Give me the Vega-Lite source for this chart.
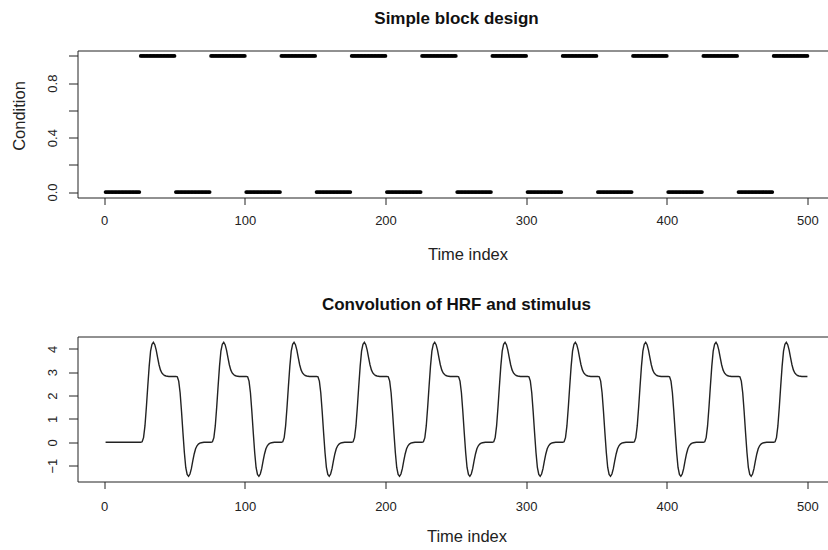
{
"$schema": "https://vega.github.io/schema/vega-lite/v6.json",
"background": "white",
"padding": {"left": 9.5, "top": 8.5, "right": -7, "bottom": 0},
"spacing": 31,
"config": {
  "font": "Liberation Sans",
  "view": {"stroke": "#222", "strokeWidth": 1},
  "axis": {"grid": false, "ticks": true, "domain": false, "domainColor": "#222", "tickColor": "#222", "labelColor": "#222", "titleColor": "#222", "labelFontSize": 13, "titleFontSize": 16.5, "titleFontWeight": "normal", "labelFont": "Liberation Sans", "titleFont": "Liberation Sans", "tickWidth": 1},
  "title": {"fontSize": 17, "fontWeight": "bold", "font": "Liberation Sans", "color": "#111", "anchor": "middle", "frame": "group", "baseline": "alphabetic"}
},
"datasets": {"d": [
{"t":1,"c":0,"y":0},{"t":2,"c":0,"y":0},{"t":3,"c":0,"y":0},{"t":4,"c":0,"y":0},{"t":5,"c":0,"y":0},{"t":6,"c":0,"y":0},{"t":7,"c":0,"y":0},{"t":8,"c":0,"y":0},{"t":9,"c":0,"y":0},{"t":10,"c":0,"y":0},{"t":11,"c":0,"y":0},{"t":12,"c":0,"y":0},{"t":13,"c":0,"y":0},{"t":14,"c":0,"y":0},{"t":15,"c":0,"y":0},{"t":16,"c":0,"y":0},{"t":17,"c":0,"y":0},{"t":18,"c":0,"y":0},{"t":19,"c":0,"y":0},{"t":20,"c":0,"y":0},{"t":21,"c":0,"y":0},{"t":22,"c":0,"y":0},{"t":23,"c":0,"y":0},{"t":24,"c":0,"y":0},{"t":25,"c":0,"y":0},
{"t":26,"c":1,"y":0},{"t":27,"c":1,"y":0.02},{"t":28,"c":1,"y":0.2},{"t":29,"c":1,"y":0.7},{"t":30,"c":1,"y":1.5},{"t":31,"c":1,"y":2.4},{"t":32,"c":1,"y":3.25},{"t":33,"c":1,"y":3.9},{"t":34,"c":1,"y":4.2},{"t":35,"c":1,"y":4.28},{"t":36,"c":1,"y":4.18},{"t":37,"c":1,"y":3.95},{"t":38,"c":1,"y":3.62},{"t":39,"c":1,"y":3.32},{"t":40,"c":1,"y":3.1},{"t":41,"c":1,"y":2.97},{"t":42,"c":1,"y":2.9},{"t":43,"c":1,"y":2.86},{"t":44,"c":1,"y":2.84},{"t":45,"c":1,"y":2.83},{"t":46,"c":1,"y":2.82},{"t":47,"c":1,"y":2.82},{"t":48,"c":1,"y":2.82},{"t":49,"c":1,"y":2.82},{"t":50,"c":1,"y":2.82},
{"t":51,"c":0,"y":2.82},{"t":52,"c":0,"y":2.8},{"t":53,"c":0,"y":2.62},{"t":54,"c":0,"y":2.12},{"t":55,"c":0,"y":1.32},{"t":56,"c":0,"y":0.42},{"t":57,"c":0,"y":-0.43},{"t":58,"c":0,"y":-1.08},{"t":59,"c":0,"y":-1.38},{"t":60,"c":0,"y":-1.46},{"t":61,"c":0,"y":-1.36},{"t":62,"c":0,"y":-1.13},{"t":63,"c":0,"y":-0.8},{"t":64,"c":0,"y":-0.5},{"t":65,"c":0,"y":-0.28},{"t":66,"c":0,"y":-0.15},{"t":67,"c":0,"y":-0.08},{"t":68,"c":0,"y":-0.04},{"t":69,"c":0,"y":-0.02},{"t":70,"c":0,"y":-0.01},{"t":71,"c":0,"y":0},{"t":72,"c":0,"y":0},{"t":73,"c":0,"y":0},{"t":74,"c":0,"y":0},{"t":75,"c":0,"y":0},
{"t":76,"c":1,"y":0},{"t":77,"c":1,"y":0.02},{"t":78,"c":1,"y":0.2},{"t":79,"c":1,"y":0.7},{"t":80,"c":1,"y":1.5},{"t":81,"c":1,"y":2.4},{"t":82,"c":1,"y":3.25},{"t":83,"c":1,"y":3.9},{"t":84,"c":1,"y":4.2},{"t":85,"c":1,"y":4.28},{"t":86,"c":1,"y":4.18},{"t":87,"c":1,"y":3.95},{"t":88,"c":1,"y":3.62},{"t":89,"c":1,"y":3.32},{"t":90,"c":1,"y":3.1},{"t":91,"c":1,"y":2.97},{"t":92,"c":1,"y":2.9},{"t":93,"c":1,"y":2.86},{"t":94,"c":1,"y":2.84},{"t":95,"c":1,"y":2.83},{"t":96,"c":1,"y":2.82},{"t":97,"c":1,"y":2.82},{"t":98,"c":1,"y":2.82},{"t":99,"c":1,"y":2.82},{"t":100,"c":1,"y":2.82},
{"t":101,"c":0,"y":2.82},{"t":102,"c":0,"y":2.8},{"t":103,"c":0,"y":2.62},{"t":104,"c":0,"y":2.12},{"t":105,"c":0,"y":1.32},{"t":106,"c":0,"y":0.42},{"t":107,"c":0,"y":-0.43},{"t":108,"c":0,"y":-1.08},{"t":109,"c":0,"y":-1.38},{"t":110,"c":0,"y":-1.46},{"t":111,"c":0,"y":-1.36},{"t":112,"c":0,"y":-1.13},{"t":113,"c":0,"y":-0.8},{"t":114,"c":0,"y":-0.5},{"t":115,"c":0,"y":-0.28},{"t":116,"c":0,"y":-0.15},{"t":117,"c":0,"y":-0.08},{"t":118,"c":0,"y":-0.04},{"t":119,"c":0,"y":-0.02},{"t":120,"c":0,"y":-0.01},{"t":121,"c":0,"y":0},{"t":122,"c":0,"y":0},{"t":123,"c":0,"y":0},{"t":124,"c":0,"y":0},{"t":125,"c":0,"y":0},
{"t":126,"c":1,"y":0},{"t":127,"c":1,"y":0.02},{"t":128,"c":1,"y":0.2},{"t":129,"c":1,"y":0.7},{"t":130,"c":1,"y":1.5},{"t":131,"c":1,"y":2.4},{"t":132,"c":1,"y":3.25},{"t":133,"c":1,"y":3.9},{"t":134,"c":1,"y":4.2},{"t":135,"c":1,"y":4.28},{"t":136,"c":1,"y":4.18},{"t":137,"c":1,"y":3.95},{"t":138,"c":1,"y":3.62},{"t":139,"c":1,"y":3.32},{"t":140,"c":1,"y":3.1},{"t":141,"c":1,"y":2.97},{"t":142,"c":1,"y":2.9},{"t":143,"c":1,"y":2.86},{"t":144,"c":1,"y":2.84},{"t":145,"c":1,"y":2.83},{"t":146,"c":1,"y":2.82},{"t":147,"c":1,"y":2.82},{"t":148,"c":1,"y":2.82},{"t":149,"c":1,"y":2.82},{"t":150,"c":1,"y":2.82},
{"t":151,"c":0,"y":2.82},{"t":152,"c":0,"y":2.8},{"t":153,"c":0,"y":2.62},{"t":154,"c":0,"y":2.12},{"t":155,"c":0,"y":1.32},{"t":156,"c":0,"y":0.42},{"t":157,"c":0,"y":-0.43},{"t":158,"c":0,"y":-1.08},{"t":159,"c":0,"y":-1.38},{"t":160,"c":0,"y":-1.46},{"t":161,"c":0,"y":-1.36},{"t":162,"c":0,"y":-1.13},{"t":163,"c":0,"y":-0.8},{"t":164,"c":0,"y":-0.5},{"t":165,"c":0,"y":-0.28},{"t":166,"c":0,"y":-0.15},{"t":167,"c":0,"y":-0.08},{"t":168,"c":0,"y":-0.04},{"t":169,"c":0,"y":-0.02},{"t":170,"c":0,"y":-0.01},{"t":171,"c":0,"y":0},{"t":172,"c":0,"y":0},{"t":173,"c":0,"y":0},{"t":174,"c":0,"y":0},{"t":175,"c":0,"y":0},
{"t":176,"c":1,"y":0},{"t":177,"c":1,"y":0.02},{"t":178,"c":1,"y":0.2},{"t":179,"c":1,"y":0.7},{"t":180,"c":1,"y":1.5},{"t":181,"c":1,"y":2.4},{"t":182,"c":1,"y":3.25},{"t":183,"c":1,"y":3.9},{"t":184,"c":1,"y":4.2},{"t":185,"c":1,"y":4.28},{"t":186,"c":1,"y":4.18},{"t":187,"c":1,"y":3.95},{"t":188,"c":1,"y":3.62},{"t":189,"c":1,"y":3.32},{"t":190,"c":1,"y":3.1},{"t":191,"c":1,"y":2.97},{"t":192,"c":1,"y":2.9},{"t":193,"c":1,"y":2.86},{"t":194,"c":1,"y":2.84},{"t":195,"c":1,"y":2.83},{"t":196,"c":1,"y":2.82},{"t":197,"c":1,"y":2.82},{"t":198,"c":1,"y":2.82},{"t":199,"c":1,"y":2.82},{"t":200,"c":1,"y":2.82},
{"t":201,"c":0,"y":2.82},{"t":202,"c":0,"y":2.8},{"t":203,"c":0,"y":2.62},{"t":204,"c":0,"y":2.12},{"t":205,"c":0,"y":1.32},{"t":206,"c":0,"y":0.42},{"t":207,"c":0,"y":-0.43},{"t":208,"c":0,"y":-1.08},{"t":209,"c":0,"y":-1.38},{"t":210,"c":0,"y":-1.46},{"t":211,"c":0,"y":-1.36},{"t":212,"c":0,"y":-1.13},{"t":213,"c":0,"y":-0.8},{"t":214,"c":0,"y":-0.5},{"t":215,"c":0,"y":-0.28},{"t":216,"c":0,"y":-0.15},{"t":217,"c":0,"y":-0.08},{"t":218,"c":0,"y":-0.04},{"t":219,"c":0,"y":-0.02},{"t":220,"c":0,"y":-0.01},{"t":221,"c":0,"y":0},{"t":222,"c":0,"y":0},{"t":223,"c":0,"y":0},{"t":224,"c":0,"y":0},{"t":225,"c":0,"y":0},
{"t":226,"c":1,"y":0},{"t":227,"c":1,"y":0.02},{"t":228,"c":1,"y":0.2},{"t":229,"c":1,"y":0.7},{"t":230,"c":1,"y":1.5},{"t":231,"c":1,"y":2.4},{"t":232,"c":1,"y":3.25},{"t":233,"c":1,"y":3.9},{"t":234,"c":1,"y":4.2},{"t":235,"c":1,"y":4.28},{"t":236,"c":1,"y":4.18},{"t":237,"c":1,"y":3.95},{"t":238,"c":1,"y":3.62},{"t":239,"c":1,"y":3.32},{"t":240,"c":1,"y":3.1},{"t":241,"c":1,"y":2.97},{"t":242,"c":1,"y":2.9},{"t":243,"c":1,"y":2.86},{"t":244,"c":1,"y":2.84},{"t":245,"c":1,"y":2.83},{"t":246,"c":1,"y":2.82},{"t":247,"c":1,"y":2.82},{"t":248,"c":1,"y":2.82},{"t":249,"c":1,"y":2.82},{"t":250,"c":1,"y":2.82},
{"t":251,"c":0,"y":2.82},{"t":252,"c":0,"y":2.8},{"t":253,"c":0,"y":2.62},{"t":254,"c":0,"y":2.12},{"t":255,"c":0,"y":1.32},{"t":256,"c":0,"y":0.42},{"t":257,"c":0,"y":-0.43},{"t":258,"c":0,"y":-1.08},{"t":259,"c":0,"y":-1.38},{"t":260,"c":0,"y":-1.46},{"t":261,"c":0,"y":-1.36},{"t":262,"c":0,"y":-1.13},{"t":263,"c":0,"y":-0.8},{"t":264,"c":0,"y":-0.5},{"t":265,"c":0,"y":-0.28},{"t":266,"c":0,"y":-0.15},{"t":267,"c":0,"y":-0.08},{"t":268,"c":0,"y":-0.04},{"t":269,"c":0,"y":-0.02},{"t":270,"c":0,"y":-0.01},{"t":271,"c":0,"y":0},{"t":272,"c":0,"y":0},{"t":273,"c":0,"y":0},{"t":274,"c":0,"y":0},{"t":275,"c":0,"y":0},
{"t":276,"c":1,"y":0},{"t":277,"c":1,"y":0.02},{"t":278,"c":1,"y":0.2},{"t":279,"c":1,"y":0.7},{"t":280,"c":1,"y":1.5},{"t":281,"c":1,"y":2.4},{"t":282,"c":1,"y":3.25},{"t":283,"c":1,"y":3.9},{"t":284,"c":1,"y":4.2},{"t":285,"c":1,"y":4.28},{"t":286,"c":1,"y":4.18},{"t":287,"c":1,"y":3.95},{"t":288,"c":1,"y":3.62},{"t":289,"c":1,"y":3.32},{"t":290,"c":1,"y":3.1},{"t":291,"c":1,"y":2.97},{"t":292,"c":1,"y":2.9},{"t":293,"c":1,"y":2.86},{"t":294,"c":1,"y":2.84},{"t":295,"c":1,"y":2.83},{"t":296,"c":1,"y":2.82},{"t":297,"c":1,"y":2.82},{"t":298,"c":1,"y":2.82},{"t":299,"c":1,"y":2.82},{"t":300,"c":1,"y":2.82},
{"t":301,"c":0,"y":2.82},{"t":302,"c":0,"y":2.8},{"t":303,"c":0,"y":2.62},{"t":304,"c":0,"y":2.12},{"t":305,"c":0,"y":1.32},{"t":306,"c":0,"y":0.42},{"t":307,"c":0,"y":-0.43},{"t":308,"c":0,"y":-1.08},{"t":309,"c":0,"y":-1.38},{"t":310,"c":0,"y":-1.46},{"t":311,"c":0,"y":-1.36},{"t":312,"c":0,"y":-1.13},{"t":313,"c":0,"y":-0.8},{"t":314,"c":0,"y":-0.5},{"t":315,"c":0,"y":-0.28},{"t":316,"c":0,"y":-0.15},{"t":317,"c":0,"y":-0.08},{"t":318,"c":0,"y":-0.04},{"t":319,"c":0,"y":-0.02},{"t":320,"c":0,"y":-0.01},{"t":321,"c":0,"y":0},{"t":322,"c":0,"y":0},{"t":323,"c":0,"y":0},{"t":324,"c":0,"y":0},{"t":325,"c":0,"y":0},
{"t":326,"c":1,"y":0},{"t":327,"c":1,"y":0.02},{"t":328,"c":1,"y":0.2},{"t":329,"c":1,"y":0.7},{"t":330,"c":1,"y":1.5},{"t":331,"c":1,"y":2.4},{"t":332,"c":1,"y":3.25},{"t":333,"c":1,"y":3.9},{"t":334,"c":1,"y":4.2},{"t":335,"c":1,"y":4.28},{"t":336,"c":1,"y":4.18},{"t":337,"c":1,"y":3.95},{"t":338,"c":1,"y":3.62},{"t":339,"c":1,"y":3.32},{"t":340,"c":1,"y":3.1},{"t":341,"c":1,"y":2.97},{"t":342,"c":1,"y":2.9},{"t":343,"c":1,"y":2.86},{"t":344,"c":1,"y":2.84},{"t":345,"c":1,"y":2.83},{"t":346,"c":1,"y":2.82},{"t":347,"c":1,"y":2.82},{"t":348,"c":1,"y":2.82},{"t":349,"c":1,"y":2.82},{"t":350,"c":1,"y":2.82},
{"t":351,"c":0,"y":2.82},{"t":352,"c":0,"y":2.8},{"t":353,"c":0,"y":2.62},{"t":354,"c":0,"y":2.12},{"t":355,"c":0,"y":1.32},{"t":356,"c":0,"y":0.42},{"t":357,"c":0,"y":-0.43},{"t":358,"c":0,"y":-1.08},{"t":359,"c":0,"y":-1.38},{"t":360,"c":0,"y":-1.46},{"t":361,"c":0,"y":-1.36},{"t":362,"c":0,"y":-1.13},{"t":363,"c":0,"y":-0.8},{"t":364,"c":0,"y":-0.5},{"t":365,"c":0,"y":-0.28},{"t":366,"c":0,"y":-0.15},{"t":367,"c":0,"y":-0.08},{"t":368,"c":0,"y":-0.04},{"t":369,"c":0,"y":-0.02},{"t":370,"c":0,"y":-0.01},{"t":371,"c":0,"y":0},{"t":372,"c":0,"y":0},{"t":373,"c":0,"y":0},{"t":374,"c":0,"y":0},{"t":375,"c":0,"y":0},
{"t":376,"c":1,"y":0},{"t":377,"c":1,"y":0.02},{"t":378,"c":1,"y":0.2},{"t":379,"c":1,"y":0.7},{"t":380,"c":1,"y":1.5},{"t":381,"c":1,"y":2.4},{"t":382,"c":1,"y":3.25},{"t":383,"c":1,"y":3.9},{"t":384,"c":1,"y":4.2},{"t":385,"c":1,"y":4.28},{"t":386,"c":1,"y":4.18},{"t":387,"c":1,"y":3.95},{"t":388,"c":1,"y":3.62},{"t":389,"c":1,"y":3.32},{"t":390,"c":1,"y":3.1},{"t":391,"c":1,"y":2.97},{"t":392,"c":1,"y":2.9},{"t":393,"c":1,"y":2.86},{"t":394,"c":1,"y":2.84},{"t":395,"c":1,"y":2.83},{"t":396,"c":1,"y":2.82},{"t":397,"c":1,"y":2.82},{"t":398,"c":1,"y":2.82},{"t":399,"c":1,"y":2.82},{"t":400,"c":1,"y":2.82},
{"t":401,"c":0,"y":2.82},{"t":402,"c":0,"y":2.8},{"t":403,"c":0,"y":2.62},{"t":404,"c":0,"y":2.12},{"t":405,"c":0,"y":1.32},{"t":406,"c":0,"y":0.42},{"t":407,"c":0,"y":-0.43},{"t":408,"c":0,"y":-1.08},{"t":409,"c":0,"y":-1.38},{"t":410,"c":0,"y":-1.46},{"t":411,"c":0,"y":-1.36},{"t":412,"c":0,"y":-1.13},{"t":413,"c":0,"y":-0.8},{"t":414,"c":0,"y":-0.5},{"t":415,"c":0,"y":-0.28},{"t":416,"c":0,"y":-0.15},{"t":417,"c":0,"y":-0.08},{"t":418,"c":0,"y":-0.04},{"t":419,"c":0,"y":-0.02},{"t":420,"c":0,"y":-0.01},{"t":421,"c":0,"y":0},{"t":422,"c":0,"y":0},{"t":423,"c":0,"y":0},{"t":424,"c":0,"y":0},{"t":425,"c":0,"y":0},
{"t":426,"c":1,"y":0},{"t":427,"c":1,"y":0.02},{"t":428,"c":1,"y":0.2},{"t":429,"c":1,"y":0.7},{"t":430,"c":1,"y":1.5},{"t":431,"c":1,"y":2.4},{"t":432,"c":1,"y":3.25},{"t":433,"c":1,"y":3.9},{"t":434,"c":1,"y":4.2},{"t":435,"c":1,"y":4.28},{"t":436,"c":1,"y":4.18},{"t":437,"c":1,"y":3.95},{"t":438,"c":1,"y":3.62},{"t":439,"c":1,"y":3.32},{"t":440,"c":1,"y":3.1},{"t":441,"c":1,"y":2.97},{"t":442,"c":1,"y":2.9},{"t":443,"c":1,"y":2.86},{"t":444,"c":1,"y":2.84},{"t":445,"c":1,"y":2.83},{"t":446,"c":1,"y":2.82},{"t":447,"c":1,"y":2.82},{"t":448,"c":1,"y":2.82},{"t":449,"c":1,"y":2.82},{"t":450,"c":1,"y":2.82},
{"t":451,"c":0,"y":2.82},{"t":452,"c":0,"y":2.8},{"t":453,"c":0,"y":2.62},{"t":454,"c":0,"y":2.12},{"t":455,"c":0,"y":1.32},{"t":456,"c":0,"y":0.42},{"t":457,"c":0,"y":-0.43},{"t":458,"c":0,"y":-1.08},{"t":459,"c":0,"y":-1.38},{"t":460,"c":0,"y":-1.46},{"t":461,"c":0,"y":-1.36},{"t":462,"c":0,"y":-1.13},{"t":463,"c":0,"y":-0.8},{"t":464,"c":0,"y":-0.5},{"t":465,"c":0,"y":-0.28},{"t":466,"c":0,"y":-0.15},{"t":467,"c":0,"y":-0.08},{"t":468,"c":0,"y":-0.04},{"t":469,"c":0,"y":-0.02},{"t":470,"c":0,"y":-0.01},{"t":471,"c":0,"y":0},{"t":472,"c":0,"y":0},{"t":473,"c":0,"y":0},{"t":474,"c":0,"y":0},{"t":475,"c":0,"y":0},
{"t":476,"c":1,"y":0},{"t":477,"c":1,"y":0.02},{"t":478,"c":1,"y":0.2},{"t":479,"c":1,"y":0.7},{"t":480,"c":1,"y":1.5},{"t":481,"c":1,"y":2.4},{"t":482,"c":1,"y":3.25},{"t":483,"c":1,"y":3.9},{"t":484,"c":1,"y":4.2},{"t":485,"c":1,"y":4.28},{"t":486,"c":1,"y":4.18},{"t":487,"c":1,"y":3.95},{"t":488,"c":1,"y":3.62},{"t":489,"c":1,"y":3.32},{"t":490,"c":1,"y":3.1},{"t":491,"c":1,"y":2.97},{"t":492,"c":1,"y":2.9},{"t":493,"c":1,"y":2.86},{"t":494,"c":1,"y":2.84},{"t":495,"c":1,"y":2.83},{"t":496,"c":1,"y":2.82},{"t":497,"c":1,"y":2.82},{"t":498,"c":1,"y":2.82},{"t":499,"c":1,"y":2.82},{"t":500,"c":1,"y":2.82}
]},
"vconcat": [
  {
    "width": 758, "height": 147,
    "title": {"text": "Simple block design", "offset": 23},
    "data": {"name": "d"},
    "mark": {"type": "point", "filled": true, "size": 14, "color": "black", "opacity": 1},
    "encoding": {
      "x": {"field": "t", "type": "quantitative", "scale": {"domain": [-18.96, 519.96], "nice": false, "zero": false},
            "axis": {"values": [0, 100, 200, 300, 400, 500], "title": "Time index", "tickSize": 7, "labelPadding": 10, "titlePadding": 19, "titleX": 390, "labelFlush": false, "labelOverlap": false}},
      "y": {"field": "c", "type": "quantitative", "scale": {"domain": [-0.04, 1.04], "nice": false, "zero": false},
            "axis": {"values": [0, 0.2, 0.4, 0.6, 0.8, 1], "labelExpr": "indexof([0, 0.4, 0.8], datum.value) >= 0 ? format(datum.value, '.1f') : ''", "labelAngle": -90, "title": "Condition", "tickSize": 9, "labelPadding": 9, "titlePadding": 19.5, "titleY": 65, "labelOverlap": false}}
    }
  },
  {
    "width": 758, "height": 145,
    "title": {"text": "Convolution of HRF and stimulus", "offset": 23},
    "data": {"name": "d"},
    "mark": {"type": "line", "color": "#222", "strokeWidth": 1.4},
    "encoding": {
      "x": {"field": "t", "type": "quantitative", "scale": {"domain": [-18.96, 519.96], "nice": false, "zero": false},
            "axis": {"values": [0, 100, 200, 300, 400, 500], "title": "Time index", "tickSize": 7, "labelPadding": 12, "titlePadding": 14.5, "titleX": 389, "labelFlush": false, "labelOverlap": false}},
      "y": {"field": "y", "type": "quantitative", "scale": {"domain": [-1.68, 4.53], "nice": false, "zero": false},
            "axis": {"values": [-1, 0, 1, 2, 3, 4], "labelAngle": -90, "title": null, "tickSize": 9, "labelPadding": 9, "labelOverlap": false}}
    }
  }
]
}
